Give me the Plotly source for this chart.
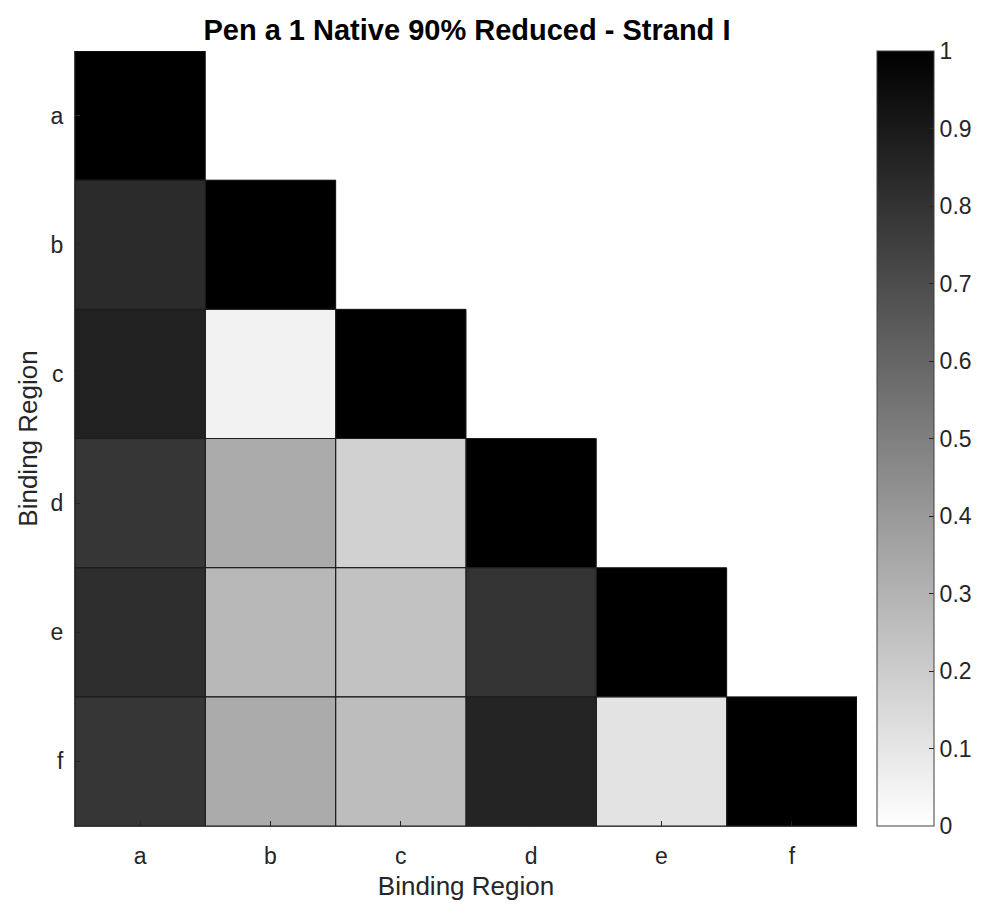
import math
import plotly.graph_objects as go

# Binding regions (rows and columns of the similarity matrix)
regions = ["a", "b", "c", "d", "e", "f"]

# Lower-triangular similarity values, one list per row (row region vs. column region)
row_a = [1.00]
row_b = [0.83, 1.00]
row_c = [0.87, 0.05, 1.00]
row_d = [0.79, 0.33, 0.18, 1.00]
row_e = [0.82, 0.28, 0.24, 0.80, 1.00]
row_f = [0.79, 0.33, 0.26, 0.86, 0.11, 1.00]

rows = [row_a, row_b, row_c, row_d, row_e, row_f]
n = len(regions)
z = [r + [None] * (n - len(r)) for r in rows]

cbar_ticks = [0, 0.1, 0.2, 0.3, 0.4, 0.5, 0.6, 0.7, 0.8, 0.9, 1]

font_family = "Liberation Sans, Arial, Helvetica, sans-serif"
ink = "#262626"

fig = go.Figure(
    go.Heatmap(
        z=z,
        x=regions,
        y=regions,
        zmin=0,
        zmax=1,
        colorscale=[[0, "#ffffff"], [1, "#000000"]],
        hoverongaps=False,
        colorbar=dict(
            x=1.0256,
            xanchor="left",
            y=0.5,
            yanchor="middle",
            len=1.0,
            lenmode="fraction",
            thickness=57,
            outlinewidth=1,
            outlinecolor="#404040",
            tickvals=cbar_ticks,
            tickprefix="\u2009",
            ticks="inside",
            ticklen=5,
            tickcolor=ink,
            tickfont=dict(family=font_family, size=23, color=ink),
            ypad=0,
            xpad=0,
        ),
    )
)

# Thin dark outline around every filled cell
for i, r in enumerate(rows):
    for j, v in enumerate(r):
        if v is None or (isinstance(v, float) and math.isnan(v)):
            continue
        fig.add_shape(
            type="rect",
            xref="x",
            yref="y",
            x0=j - 0.5,
            x1=j + 0.5,
            y0=i - 0.5,
            y1=i + 0.5,
            line=dict(color="#1e1e1e", width=1),
            fillcolor="rgba(0,0,0,0)",
            layer="above",
        )

fig.update_layout(
    width=982,
    height=907,
    margin=dict(l=75, r=125, t=51, b=81, autoexpand=False),
    paper_bgcolor="white",
    plot_bgcolor="white",
    font=dict(family=font_family, color=ink),
    title=dict(
        text="<b>Pen a 1 Native 90% Reduced - Strand I</b>",
        x=0.4755,
        xanchor="center",
        y=0.967,
        yanchor="middle",
        font=dict(family=font_family, size=29, color="#000000"),
    ),
)

fig.update_xaxes(
    type="category",
    range=[-0.5, n - 0.5],
    showline=True,
    linecolor="#404040",
    linewidth=1,
    ticks="inside",
    ticklen=5,
    tickcolor=ink,
    tickfont=dict(size=23, color=ink),
    ticklabelstandoff=9,
    showgrid=False,
    zeroline=False,
    title=dict(text="Binding Region", font=dict(size=26, color=ink), standoff=9),
)

fig.update_yaxes(
    type="category",
    range=[n - 0.5, -0.5],
    showline=True,
    linecolor="#404040",
    linewidth=1,
    ticks="inside",
    ticklen=5,
    tickcolor=ink,
    tickfont=dict(size=23, color=ink),
    ticklabelstandoff=6,
    showgrid=False,
    zeroline=False,
    title=dict(text="Binding Region", font=dict(size=26, color=ink), standoff=5),
)

fig.write_html("out.html")
